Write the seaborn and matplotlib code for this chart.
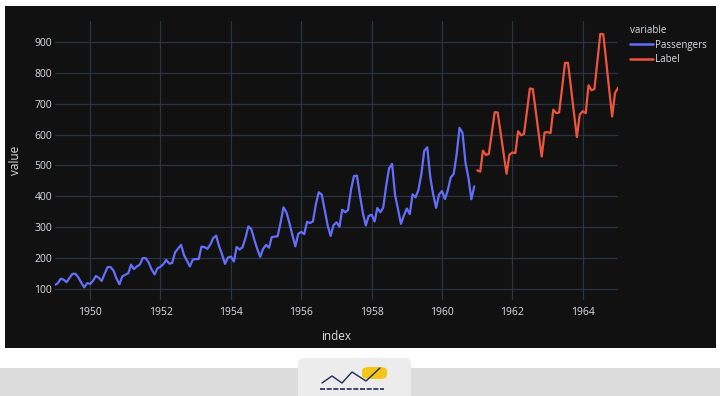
import numpy as np
import pandas as pd
import seaborn as sns
import matplotlib.pyplot as plt
import matplotlib.dates as mdates
from matplotlib.patches import FancyBboxPatch, Rectangle

#######################
####### data ##########
#######################
## monthly airline passengers, 1949-01 .. 1960-12
passengers = [112, 118, 132, 129, 121, 135, 148, 148, 136, 119, 104, 118,
              115, 126, 141, 135, 125, 149, 170, 170, 158, 133, 114, 140,
              145, 150, 178, 163, 172, 178, 199, 199, 184, 162, 146, 166,
              171, 180, 193, 181, 183, 218, 230, 242, 209, 191, 172, 194,
              196, 196, 236, 235, 229, 243, 264, 272, 237, 211, 180, 201,
              204, 188, 235, 227, 234, 264, 302, 293, 259, 229, 203, 229,
              242, 233, 267, 269, 270, 315, 364, 347, 312, 274, 237, 278,
              284, 277, 317, 313, 318, 374, 413, 405, 355, 306, 271, 306,
              315, 301, 356, 348, 355, 422, 465, 467, 404, 347, 305, 336,
              340, 318, 362, 348, 363, 435, 491, 505, 404, 359, 310, 337,
              360, 342, 406, 396, 420, 472, 548, 559, 463, 407, 362, 405,
              417, 391, 419, 461, 472, 535, 622, 606, 508, 461, 390, 432]
## forecast ("Label"), 1961-01 .. 1965-01
label = [484, 480, 548, 534, 537, 605, 673, 672, 606, 540, 473, 535,
         542, 540, 611, 598, 602, 676, 750, 748, 675, 602, 529, 607,
         608, 605, 681, 670, 672, 752, 833, 833, 753, 672, 592, 665,
         676, 670, 760, 744, 748, 838, 927, 926, 837, 748, 659, 735,
         752]

start_passengers = '1949-01-01'
start_label = '1961-01-01'
series_names = ['Passengers', 'Label']
x_ticks = ['1950', '1952', '1954', '1956', '1958', '1960', '1962', '1964']
y_ticks = [100, 200, 300, 400, 500, 600, 700, 800, 900]

df_p = pd.DataFrame({'index': pd.date_range(start_passengers, periods=len(passengers), freq='MS'),
                     'value': passengers, 'variable': series_names[0]})
df_l = pd.DataFrame({'index': pd.date_range(start_label, periods=len(label), freq='MS'),
                     'value': label, 'variable': series_names[1]})
data_all = pd.concat([df_p, df_l], ignore_index=True)

#####################
######## plot #######
#####################
sns.set_theme(style='dark')
plt.rcParams['font.family'] = ['Open Sans', 'DejaVu Sans']
bg = '#111111'
grid = '#283442'
txt = '#dcdee2'

fig = plt.figure(figsize=(7.2, 3.96), dpi=100)
fig.patch.set_facecolor('white')
## dark panel of the screenshot
fig.add_artist(Rectangle((5 / 720, 1 - 348 / 396), 711 / 720, 342 / 396,
                         transform=fig.transFigure, facecolor=bg, edgecolor='none', zorder=0))
## bottom grey band + tab with logo
fig.add_artist(Rectangle((0, 0), 1, 28 / 396, transform=fig.transFigure,
                         facecolor='#dcdcdc', edgecolor='none', zorder=0))
fig.add_artist(FancyBboxPatch((298 / 720, -0.02), 113 / 720, 38 / 396 + 0.02,
                              boxstyle='round,pad=0,rounding_size=0.012',
                              transform=fig.transFigure, facecolor='#ececec',
                              edgecolor='none', zorder=1))
fig.add_artist(FancyBboxPatch((362 / 720, 1 - 379 / 396), 25 / 720, 12 / 396,
                              boxstyle='round,pad=0,rounding_size=0.01',
                              transform=fig.transFigure, facecolor='#f5c518',
                              edgecolor='none', zorder=2))
fig.add_artist(plt.Line2D([320 / 720, 384 / 720], [1 - 389 / 396, 1 - 389 / 396],
                          transform=fig.transFigure, color='#1f2a5a', lw=1.2,
                          ls=(0, (3, 1)), zorder=3))
fig.add_artist(plt.Line2D([322 / 720, 332 / 720, 342 / 720, 352 / 720, 366 / 720, 380 / 720],
                          [1 - 383 / 396, 1 - 376 / 396, 1 - 383 / 396, 1 - 372 / 396,
                           1 - 381 / 396, 1 - 368 / 396],
                          transform=fig.transFigure, color='#1f2a5a', lw=1.0, zorder=3))

ax = fig.add_axes([55 / 720, 1 - 300 / 396, 563 / 720, 279 / 396])
ax.set_facecolor(bg)
sns.lineplot(data=data_all, x='index', y='value', hue='variable',
             palette=['#636efa', '#EF553B'], linewidth=1.6, ax=ax, legend=False)

ax.set_xlim(pd.Timestamp('1949-01-01'), pd.Timestamp('1965-01-01'))
ax.set_ylim(63, 969)
ax.set_xticks([pd.Timestamp(t + '-01-01') for t in x_ticks])
ax.xaxis.set_major_formatter(mdates.DateFormatter('%Y'))
ax.set_yticks(y_ticks)
ax.grid(True, color=grid, lw=0.9)
for s in ax.spines.values():
    s.set_visible(False)
ax.tick_params(axis='both', length=0, colors=txt, labelsize=7.5)
ax.tick_params(axis='x', pad=5)
ax.tick_params(axis='y', pad=2)
ax.set_xlabel('index', color=txt, fontsize=8.5, labelpad=9)
ax.set_ylabel('value', color=txt, fontsize=8.5, labelpad=9)

## legend
handles = [plt.Line2D([], [], color=c, lw=1.8) for c in ['#636efa', '#EF553B']]
leg = fig.legend(handles, series_names, title='variable', loc='upper left',
                 bbox_to_anchor=(627 / 720, 1 - 22 / 396), frameon=False,
                 fontsize=7, title_fontsize=7, handlelength=2.4, handletextpad=0.2,
                 labelspacing=0.38, alignment='left', labelcolor=txt,
                 borderaxespad=0, borderpad=0.3)
leg.get_title().set_color(txt)

fig.savefig('out.png', dpi=100, facecolor=fig.get_facecolor())
